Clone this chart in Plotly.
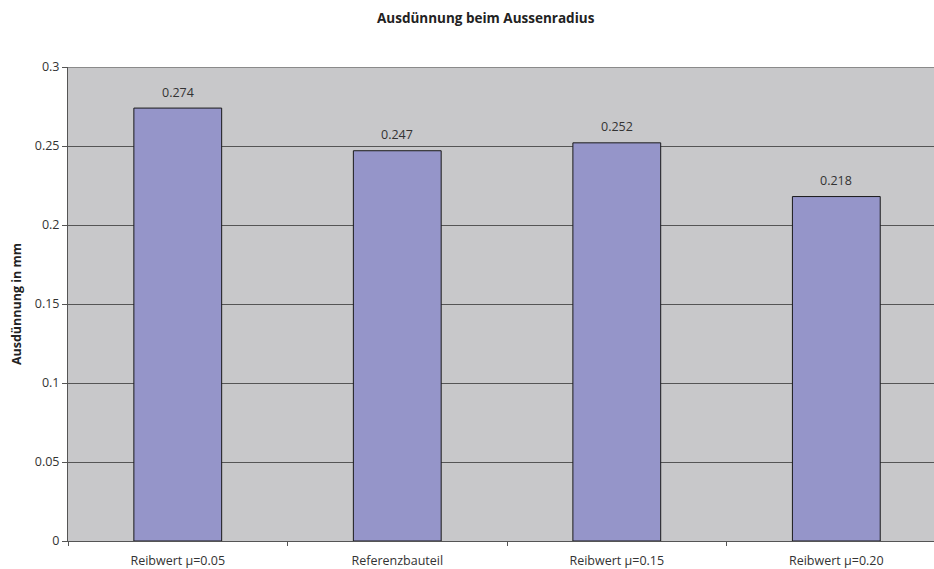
import plotly.graph_objects as go

categories = ["Reibwert μ=0.05", "Referenzbauteil", "Reibwert μ=0.15", "Reibwert μ=0.20"]
thinning_mm = [0.274, 0.247, 0.252, 0.218]
y_ticks = [0, 0.05, 0.1, 0.15, 0.2, 0.25, 0.3]
y_tick_labels = ["0", "0.05", "0.1", "0.15", "0.2", "0.25", "0.3"]

FONT = "Open Sans"

fig = go.Figure(
    go.Bar(
        x=categories,
        y=thinning_mm,
        width=0.40,
        marker=dict(color="#9595c9", line=dict(color="#1a1a1a", width=1)),
        hoverinfo="x+y",
    )
)

# value labels above each bar
for cat, val in zip(categories, thinning_mm):
    fig.add_annotation(
        x=cat,
        y=val,
        text=f"{val:.3f}",
        showarrow=False,
        yanchor="middle",
        yshift=16,
        font=dict(family=FONT, size=12.5, color="#333333"),
    )

# frame line along the top of the plot area
fig.add_shape(
    type="line",
    xref="paper",
    yref="y",
    x0=0,
    x1=1,
    y0=0.3,
    y1=0.3,
    line=dict(color="#8a8a8a", width=2),
    layer="above",
)

fig.update_layout(
    width=934,
    height=569,
    margin=dict(l=68, r=0, t=67, b=28),
    paper_bgcolor="white",
    plot_bgcolor="#c8c8ca",
    showlegend=False,
    title=dict(
        text="<b>Ausdünnung beim Aussenradius</b>",
        x=0.52,
        xanchor="center",
        y=0.968,
        yanchor="middle",
        font=dict(family=FONT, size=13.5, color="#222222"),
    ),
)

fig.update_xaxes(
    type="category",
    range=[-0.5, 3.445],
    showgrid=False,
    showline=True,
    linecolor="#555555",
    linewidth=1,
    ticks="outside",
    tickson="boundaries",
    ticklen=4,
    tickcolor="#555555",
    ticklabelstandoff=8,
    tickfont=dict(family=FONT, size=12.5, color="#333333"),
)

fig.update_yaxes(
    range=[0, 0.3],
    tickvals=y_ticks,
    ticktext=y_tick_labels,
    showgrid=True,
    gridcolor="#555555",
    gridwidth=1,
    zeroline=False,
    showline=True,
    linecolor="#555555",
    linewidth=1,
    ticks="outside",
    ticklen=5,
    tickcolor="#555555",
    tickfont=dict(family=FONT, size=12.5, color="#333333"),
    title=dict(
        text="<b>Ausdünnung in mm</b>",
        font=dict(family=FONT, size=12.5, color="#222222"),
        standoff=10,
    ),
)

fig.write_html("out.html")
